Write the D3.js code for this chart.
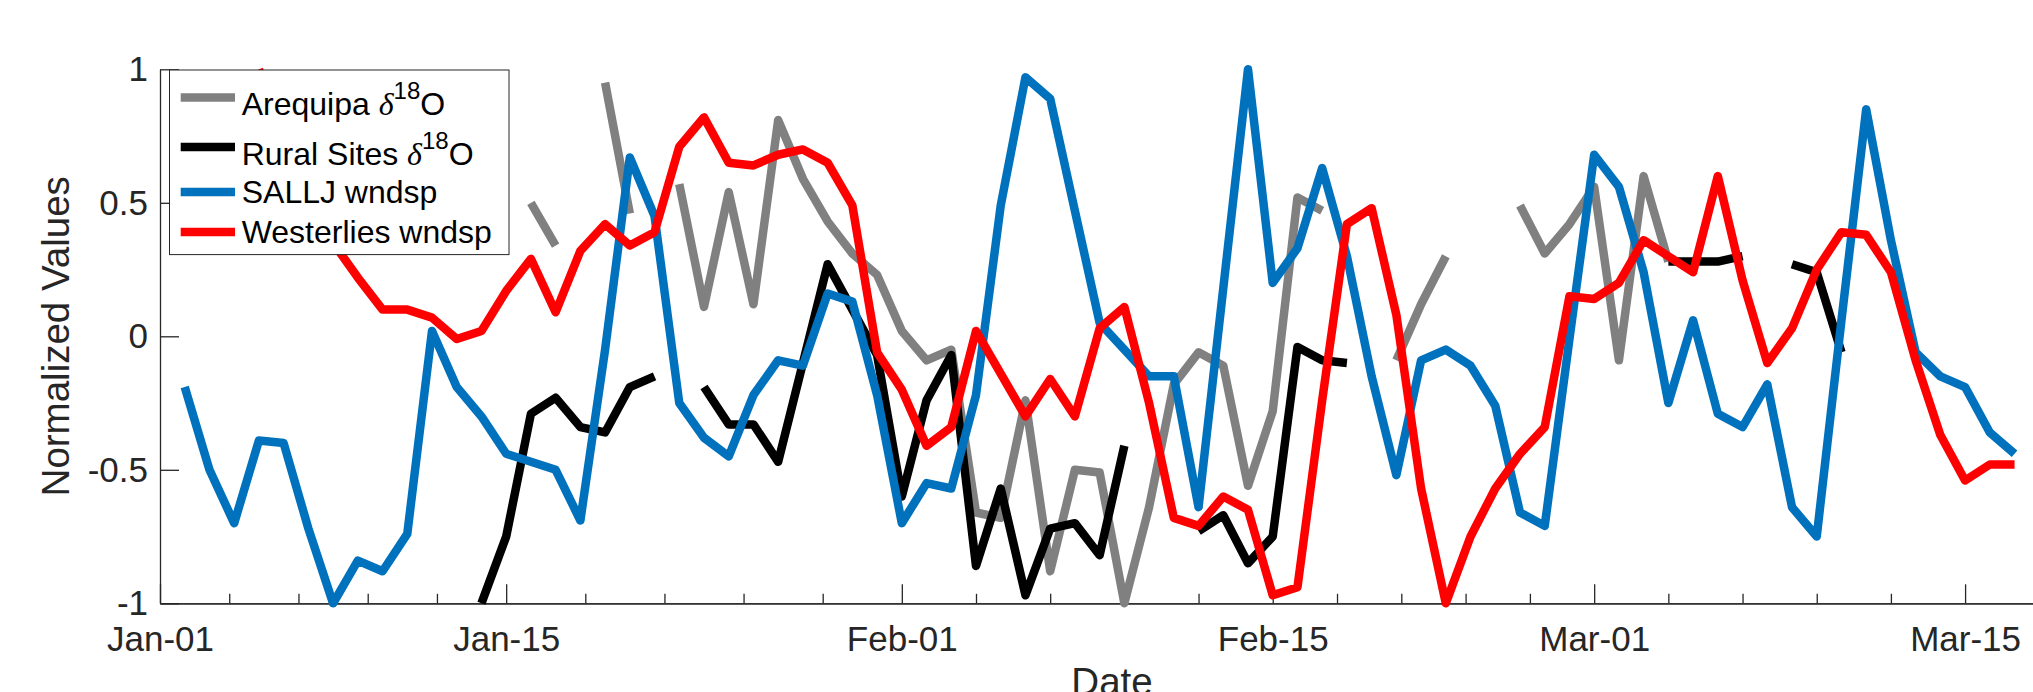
<!DOCTYPE html>
<html>
<head>
<meta charset="utf-8">
<script src="https://cdn.jsdelivr.net/npm/d3@7"></script>
<style>
  body { margin: 0; background: #fff; overflow: hidden; }
  svg { display: block; font-family: "Liberation Sans", Arial, Helvetica, sans-serif; }
  .axis path, .axis line { stroke: #262626; stroke-width: 1.3; }
  .axis text { fill: #262626; font-size: 35px; font-family: "Liberation Sans", Arial, sans-serif; }
</style>
</head>
<body>
<script>
// x positions are sample numbers (1..75), labelled by date at a few of them
const tickDays = [0, 14, 30, 45, 58, 73];
const tickLabels = ["Jan-01", "Jan-15", "Feb-01", "Feb-15", "Mar-01", "Mar-15"];
const yTicks = [-1, -0.5, 0, 0.5, 1];

const arequipa = [
  null, null, null, null, null, null, null, null, null, null,
  null, null, null, null, 0.50, 0.34, null, 0.95, 0.46, null,
  0.57, 0.11, 0.54, 0.12, 0.81, 0.59, 0.43, 0.31, 0.23, 0.02,
  -0.09, -0.05, -0.66, -0.68, -0.24, -0.88, -0.50, -0.51, -1.00, -0.64,
  -0.18, -0.06, -0.11, -0.56, -0.28, 0.52, 0.47, null, null, -0.09,
  0.12, 0.30, null, null, 0.49, 0.31, 0.42, 0.56, -0.09, 0.60,
  0.28, null, null, null, null, null, null, null, null, null,
  null, null, null, null, null
];

const rural = [
  null, null, null, null, null, null, null, null, null, null,
  null, null, -1.00, -0.75, -0.29, -0.23, -0.34, -0.36, -0.19, -0.15,
  null, -0.19, -0.33, -0.33, -0.47, -0.10, 0.27, 0.10, -0.07, -0.60,
  -0.24, -0.07, -0.86, -0.57, -0.97, -0.72, -0.70, -0.82, -0.41, null,
  null, -0.73, -0.67, -0.85, -0.75, -0.04, -0.09, -0.10, null, null,
  null, null, null, null, null, null, null, null, null, null,
  0.28, 0.28, 0.28, 0.30, null, 0.27, 0.24, -0.06, null, null,
  null, null, null, null, null
];

const sallj = [
  -0.19, -0.50, -0.70, -0.39, -0.40, -0.72, -1.00, -0.84, -0.88, -0.74,
  0.02, -0.19, -0.30, -0.44, -0.47, -0.50, -0.69, -0.05, 0.67, 0.45,
  -0.25, -0.38, -0.45, -0.22, -0.09, -0.11, 0.16, 0.13, -0.22, -0.70,
  -0.55, -0.57, -0.22, 0.49, 0.97, 0.89, 0.47, 0.05, -0.05, -0.15,
  -0.15, -0.64, 0.18, 1.00, 0.20, 0.33, 0.63, 0.30, -0.15, -0.52,
  -0.09, -0.05, -0.11, -0.26, -0.66, -0.71, -0.01, 0.68, 0.56, 0.24,
  -0.25, 0.06, -0.29, -0.34, -0.18, -0.64, -0.75, 0.06, 0.85, 0.36,
  -0.06, -0.15, -0.19, -0.36, -0.44
];

const westerlies = [
  null, null, null, 1.00, 0.78, 0.55, 0.35, 0.22, 0.10, 0.10,
  0.07, -0.01, 0.02, 0.17, 0.29, 0.09, 0.32, 0.42, 0.34, 0.39,
  0.71, 0.82, 0.65, 0.64, 0.68, 0.70, 0.65, 0.49, -0.06, -0.20,
  -0.41, -0.34, 0.02, -0.14, -0.30, -0.16, -0.30, 0.03, 0.11, -0.25,
  -0.68, -0.71, -0.60, -0.65, -0.97, -0.94, -0.24, 0.42, 0.48, 0.08,
  -0.57, -1.00, -0.75, -0.57, -0.44, -0.34, 0.15, 0.14, 0.20, 0.36,
  0.30, 0.24, 0.60, 0.21, -0.10, 0.03, 0.25, 0.39, 0.38, 0.24,
  -0.09, -0.37, -0.54, -0.48, -0.48
];

const series = [
  { name: "Arequipa ", iso: true, values: arequipa, color: "#808080" },
  { name: "Rural Sites ", iso: true, values: rural, color: "#000000" },
  { name: "SALLJ wndsp", iso: false, values: sallj, color: "#0072BD" },
  { name: "Westerlies wndsp", iso: false, values: westerlies, color: "#FF0000" }
];

const width = 2033;
const height = 692;
const margin = { top: 69.3, left: 160, bottom: 88.7 };

const svg = d3.select("body").append("svg")
  .attr("width", width)
  .attr("height", height);

svg.append("rect").attr("width", width).attr("height", height).attr("fill", "#fff");

const x = d3.scaleLinear().domain([0, 77]).range([margin.left, 2064]);
const y = d3.scaleLinear().domain([-1, 1]).range([height - margin.bottom, margin.top]);

// minor ticks split every labelled interval in five
const minorTicks = [];
for (let k = 0; k < tickDays.length - 1; k++) {
  const step = (tickDays[k + 1] - tickDays[k]) / 5;
  for (let j = 1; j < 5; j++) minorTicks.push(tickDays[k] + j * step);
}

svg.append("g")
  .attr("class", "axis")
  .attr("transform", "translate(0," + y(-1) + ")")
  .call(d3.axisBottom(x).tickValues(minorTicks).tickSizeInner(-9.5).tickSizeOuter(0).tickFormat(""));

svg.append("g")
  .attr("class", "axis")
  .attr("transform", "translate(0," + y(-1) + ")")
  .call(d3.axisBottom(x)
    .tickValues(tickDays)
    .tickSizeInner(-19)
    .tickSizeOuter(0)
    .tickPadding(23)
    .tickFormat((d, i) => tickLabels[i]));

svg.append("g")
  .attr("class", "axis")
  .attr("transform", "translate(" + x(0) + ",0)")
  .call(d3.axisLeft(y)
    .tickValues(yTicks)
    .tickSizeInner(-19)
    .tickSizeOuter(0)
    .tickPadding(12)
    .tickFormat((d) => String(d)));

const line = d3.line()
  .defined((d) => d[1] != null)
  .x((d) => x(d[0]))
  .y((d) => y(d[1]));

series.forEach((s) => {
  svg.append("path")
    .datum(s.values.map((v, i) => [i + 1, v]))
    .attr("fill", "none")
    .attr("stroke", s.color)
    .attr("stroke-width", 8.5)
    .attr("stroke-linejoin", "round")
    .attr("stroke-linecap", "butt")
    .attr("d", line);
});

// axis titles
svg.append("text")
  .attr("transform", "translate(69," + y(0) + ") rotate(-90)")
  .attr("text-anchor", "middle")
  .attr("fill", "#262626")
  .style("font-size", "38.5px")
  .text("Normalized Values");

svg.append("text")
  .attr("x", 1112)
  .attr("y", 694.5)
  .attr("text-anchor", "middle")
  .attr("fill", "#262626")
  .style("font-size", "38.5px")
  .text("Date");

// legend
const legend = svg.append("g").attr("transform", "translate(169.5,70)");
legend.append("rect")
  .attr("width", 339.5)
  .attr("height", 184.6)
  .attr("fill", "#fff")
  .attr("stroke", "#262626")
  .attr("stroke-width", 1);

const rowLine = [27.5, 77, 122, 162];
const rowBase = [45.4, 95.4, 133, 173];

series.forEach((s, i) => {
  legend.append("line")
    .attr("x1", 11.2).attr("x2", 65.5)
    .attr("y1", rowLine[i]).attr("y2", rowLine[i])
    .attr("stroke", s.color)
    .attr("stroke-width", 8.5);

  const t = legend.append("text")
    .attr("x", 72.2)
    .attr("y", rowBase[i])
    .attr("fill", "#000")
    .style("font-size", "32px")
    .text(s.name);

  if (s.iso) {
    t.append("tspan")
      .style("font-family", "'Liberation Serif', 'DejaVu Serif', serif")
      .style("font-style", "italic")
      .text("\u03B4");
    t.append("tspan")
      .attr("dy", -16)
      .style("font-size", "24px")
      .text("18");
    t.append("tspan")
      .attr("dy", 16)
      .text("O");
  }
});
</script>
</body>
</html>
